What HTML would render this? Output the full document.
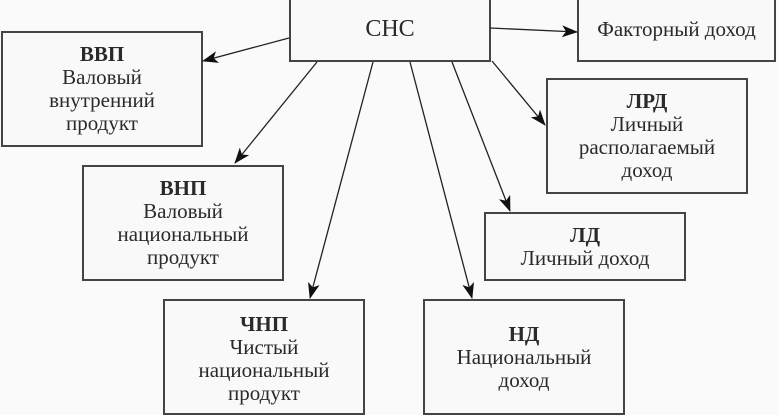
<!DOCTYPE html>
<html><head><meta charset="utf-8"><style>
body{margin:0;width:778px;height:408px;background:#fafafa;position:relative;overflow:hidden;font-family:"Liberation Serif","Noto Serif CJK SC",serif;color:#2a2a2a}
.b{position:absolute;border:2px solid #444;box-sizing:border-box;background:#f9f9f9;display:flex;flex-direction:column;justify-content:center;align-items:center;text-align:center;font-size:21px;line-height:23px;white-space:nowrap}
.b b{font-weight:bold}
svg{position:absolute;left:0;top:0}
</style></head><body>
<div class="b" style="left:289px;top:-4px;width:202px;height:66px;font-size:24px">СНС</div>
<div class="b" style="left:577px;top:-4px;width:199px;height:66px">Факторный доход</div>
<div class="b" style="left:1px;top:31px;width:202px;height:116px"><b>ВВП</b>Валовый<br>внутренний<br>продукт</div>
<div class="b" style="left:82px;top:165px;width:202px;height:116px"><b>ВНП</b>Валовый<br>национальный<br>продукт</div>
<div class="b" style="left:546px;top:78px;width:202px;height:116px"><b>ЛРД</b>Личный<br>располагаемый<br>доход</div>
<div class="b" style="left:484px;top:212px;width:202px;height:69px"><b>ЛД</b>Личный доход</div>
<div class="b" style="left:163px;top:299px;width:202px;height:116px;justify-content:flex-start;padding-top:12px"><b>ЧНП</b>Чистый<br>национальный<br>продукт</div>
<div class="b" style="left:423px;top:299px;width:202px;height:116px;justify-content:flex-start;padding-top:22px"><b>НД</b>Национальный<br>доход</div>
<svg width="778" height="408">
<defs><marker id="m" markerWidth="16" markerHeight="12" refX="15" refY="6" orient="auto" markerUnits="userSpaceOnUse"><path d="M0,0 L16,6 L0,12 L4,6 Z" fill="#111"/></marker></defs>
<g stroke="#222" stroke-width="1.3" fill="none" marker-end="url(#m)">
<line x1="289" y1="38" x2="203" y2="61"/>
<line x1="490" y1="28" x2="577" y2="32"/>
<line x1="317" y1="62" x2="235" y2="163"/>
<line x1="373" y1="62" x2="310" y2="298"/>
<line x1="410" y1="62" x2="472" y2="298"/>
<line x1="452" y1="62" x2="510" y2="211"/>
<line x1="492" y1="61" x2="545" y2="125"/>
</g>
</svg>
</body></html>
